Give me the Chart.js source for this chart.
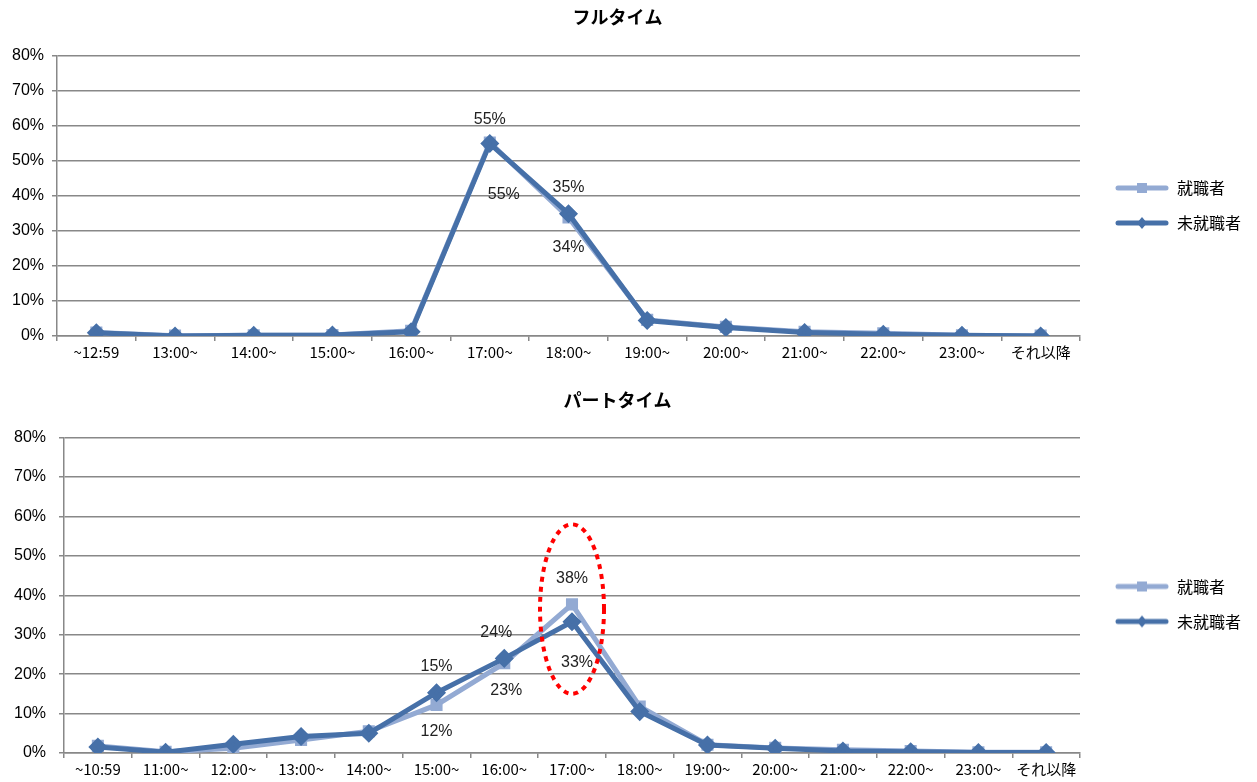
<!DOCTYPE html>
<html>
<head>
<meta charset="utf-8">
<script src="https://cdn.jsdelivr.net/npm/chart.js@4/dist/chart.umd.min.js"></script>
<style>
  html,body{margin:0;padding:0;background:#fff;}
  .box{position:absolute;left:0;width:1257px;}
</style>
</head>
<body>
<div class="box" style="top:0;height:365px"><canvas id="full"></canvas></div>
<div class="box" style="top:380px;height:402px"><canvas id="part"></canvas></div>
<script>
// series names
const seriesNames = ['就職者', '未就職者'];

// フルタイム
const fullCats = ['~12:59','13:00~','14:00~','15:00~','16:00~','17:00~','18:00~','19:00~','20:00~','21:00~','22:00~','23:00~','それ以降'];
const fullEmployed   = [1.0, 0.1, 0.2, 0.3, 1.5, 55.2, 33.8, 4.6, 2.6, 1.2, 0.8, 0.2, 0.1];
const fullUnemployed = [0.9, 0.0, 0.2, 0.3, 1.2, 54.9, 34.9, 4.4, 2.4, 1.0, 0.5, 0.2, 0.0];

// パートタイム
const partCats = ['~10:59','11:00~','12:00~','13:00~','14:00~','15:00~','16:00~','17:00~','18:00~','19:00~','20:00~','21:00~','22:00~','23:00~','それ以降'];
const partEmployed   = [1.8, 0.3, 1.2, 3.3, 5.5, 12.2, 22.8, 37.7, 11.8, 2.1, 1.3, 0.8, 0.5, 0.2, 0.2];
const partUnemployed = [1.5, 0.2, 2.2, 4.2, 5.0, 15.3, 24.0, 33.3, 10.5, 2.0, 1.2, 0.5, 0.3, 0.1, 0.1];

const yTicks = [0, 10, 20, 30, 40, 50, 60, 70, 80];

// which points carry a value label: [series, index, dx, dy]
const fullLabels = [[1,5,0,-24],[0,5,14,52],[1,6,0,-26],[0,6,0,30]];
const partLabels = [[1,5,0,-26],[0,5,0,27],[1,6,-8,-26],[0,6,2,27],[0,7,0,-26],[1,7,5,41]];

// highlight ring: category index and value range
const ringIndex = 7, ringFrom = 15, ringTo = 58;

const LIGHT = '#93aad3', DARK = '#4670a8';
const jp = '"Noto Sans CJK JP", sans-serif';
const arial = '"Liberation Sans", Arial, sans-serif';

function legendIcon(color, style){
  const c = document.createElement('canvas');
  c.width = 54; c.height = 14;
  const g = c.getContext('2d');
  g.strokeStyle = color; g.lineWidth = 5; g.lineCap = 'round';
  g.beginPath(); g.moveTo(3,7); g.lineTo(51,7); g.stroke();
  g.fillStyle = color;
  if (style === 'rect') { g.fillRect(22,2,10,10); }
  else { g.beginPath(); g.moveTo(27,1); g.lineTo(32,7); g.lineTo(27,13); g.lineTo(22,7); g.closePath(); g.fill(); }
  return c;
}
const icons = [legendIcon(LIGHT,'rect'), legendIcon(DARK,'diamond')];

const valueLabels = {
  id:'valueLabels',
  afterDatasetsDraw(chart, args, opts){
    const ctx = chart.ctx;
    ctx.save();
    ctx.font = '16px ' + arial;
    ctx.fillStyle = '#222';
    ctx.textAlign = 'center'; ctx.textBaseline = 'middle';
    (opts.list||[]).forEach(([ds,i,dx,dy])=>{
      const pt = chart.getDatasetMeta(ds).data[i];
      const v = chart.data.datasets[ds].data[i];
      ctx.fillText(Math.round(v)+'%', pt.x+dx, pt.y+dy);
    });
    ctx.restore();
  }
};

const ring = {
  id:'ring',
  afterDatasetsDraw(chart, args, opts){
    if (!opts.show) return;
    const x = chart.scales.x.getPixelForValue(ringIndex);
    const y1 = chart.scales.y.getPixelForValue(ringFrom), y2 = chart.scales.y.getPixelForValue(ringTo);
    const ctx = chart.ctx;
    ctx.save();
    ctx.strokeStyle = '#ff0000'; ctx.lineWidth = 4; ctx.setLineDash([5,5]);
    ctx.beginPath();
    ctx.ellipse(x, (y1+y2)/2, 32, Math.abs(y1-y2)/2, 0, 0, Math.PI*2);
    ctx.stroke();
    ctx.restore();
  }
};

// move the legend box after layout (keeps plot area where it is)
const legendNudge = {
  id:'legendNudge',
  afterLayout(chart, args, opts){
    const lg = chart.legend;
    if (!lg) return;
    lg.left += opts.dx; lg.right += opts.dx;
    lg.top += opts.dy; lg.bottom += opts.dy;
  }
};

function makeChart(id, title, cats, employed, unemployed, labels, showRing, titlePad, axisW){
  new Chart(document.getElementById(id).getContext('2d'), {
    type:'line',
    data:{ labels:cats, datasets:[
      { label:seriesNames[0], data:employed, borderColor:LIGHT, backgroundColor:LIGHT, borderWidth:5,
        pointStyle:'rect', pointRadius:5, pointHoverRadius:5, order:1, tension:0 },
      { label:seriesNames[1], data:unemployed, borderColor:DARK, backgroundColor:DARK, borderWidth:5,
        pointStyle:'rectRot', pointRadius:6, pointHoverRadius:6, order:0, tension:0 }
    ]},
    options:{ responsive:true, maintainAspectRatio:false, animation:false,
      layout:{ padding:{ left:0, right:22, bottom:2 } },
      plugins:{
        title:{ display:true, text:title, color:'#000', font:{family:jp, size:18, weight:'bold'}, padding:titlePad },
        legend:{ position:'right', align:'center',
          labels:{ usePointStyle:true, pointStyleWidth:54, padding:19, color:'#000', font:{family:jp, size:16},
            generateLabels:(c)=>c.data.datasets.map((d,i)=>({ text:d.label, pointStyle:icons[i], datasetIndex:i,
              fillStyle:d.borderColor, strokeStyle:d.borderColor, lineWidth:0, fontColor:'#000' })) } },
        legendNudge:{ dx:16, dy:24 },
        tooltip:{ enabled:false },
        valueLabels:{ list:labels },
        ring:{ show:showRing }
      },
      scales:{
        x:{ offset:true,
          grid:{ offset:true, drawOnChartArea:false, color:'#888', lineWidth:1.5, tickLength:5 },
          border:{ color:'#888', width:1.5 },
          ticks:{ color:'#000', font:{family:jp, size:15}, maxRotation:0, autoSkip:false, padding:2 } },
        y:{ min:0, max:80,
          afterBuildTicks:(s)=>{ s.ticks = yTicks.map(v=>({value:v})); },
          afterFit:(s)=>{ s.width = axisW; },
          grid:{ color:'#888', lineWidth:1.5, tickLength:5 },
          border:{ color:'#888', width:1.5 },
          ticks:{ color:'#000', font:{family:arial, size:16}, padding:axisW === 57 ? 8 : 13, callback:(v)=>v+'%' } }
      }
    },
    plugins:[valueLabels, ring, legendNudge]
  });
}

makeChart('full', 'フルタイム', fullCats, fullEmployed, fullUnemployed, fullLabels, false, {top:6, bottom:28}, 57);
makeChart('part', 'パートタイム', partCats, partEmployed, partUnemployed, partLabels, true, {top:9, bottom:27}, 64);
</script>
</body>
</html>
